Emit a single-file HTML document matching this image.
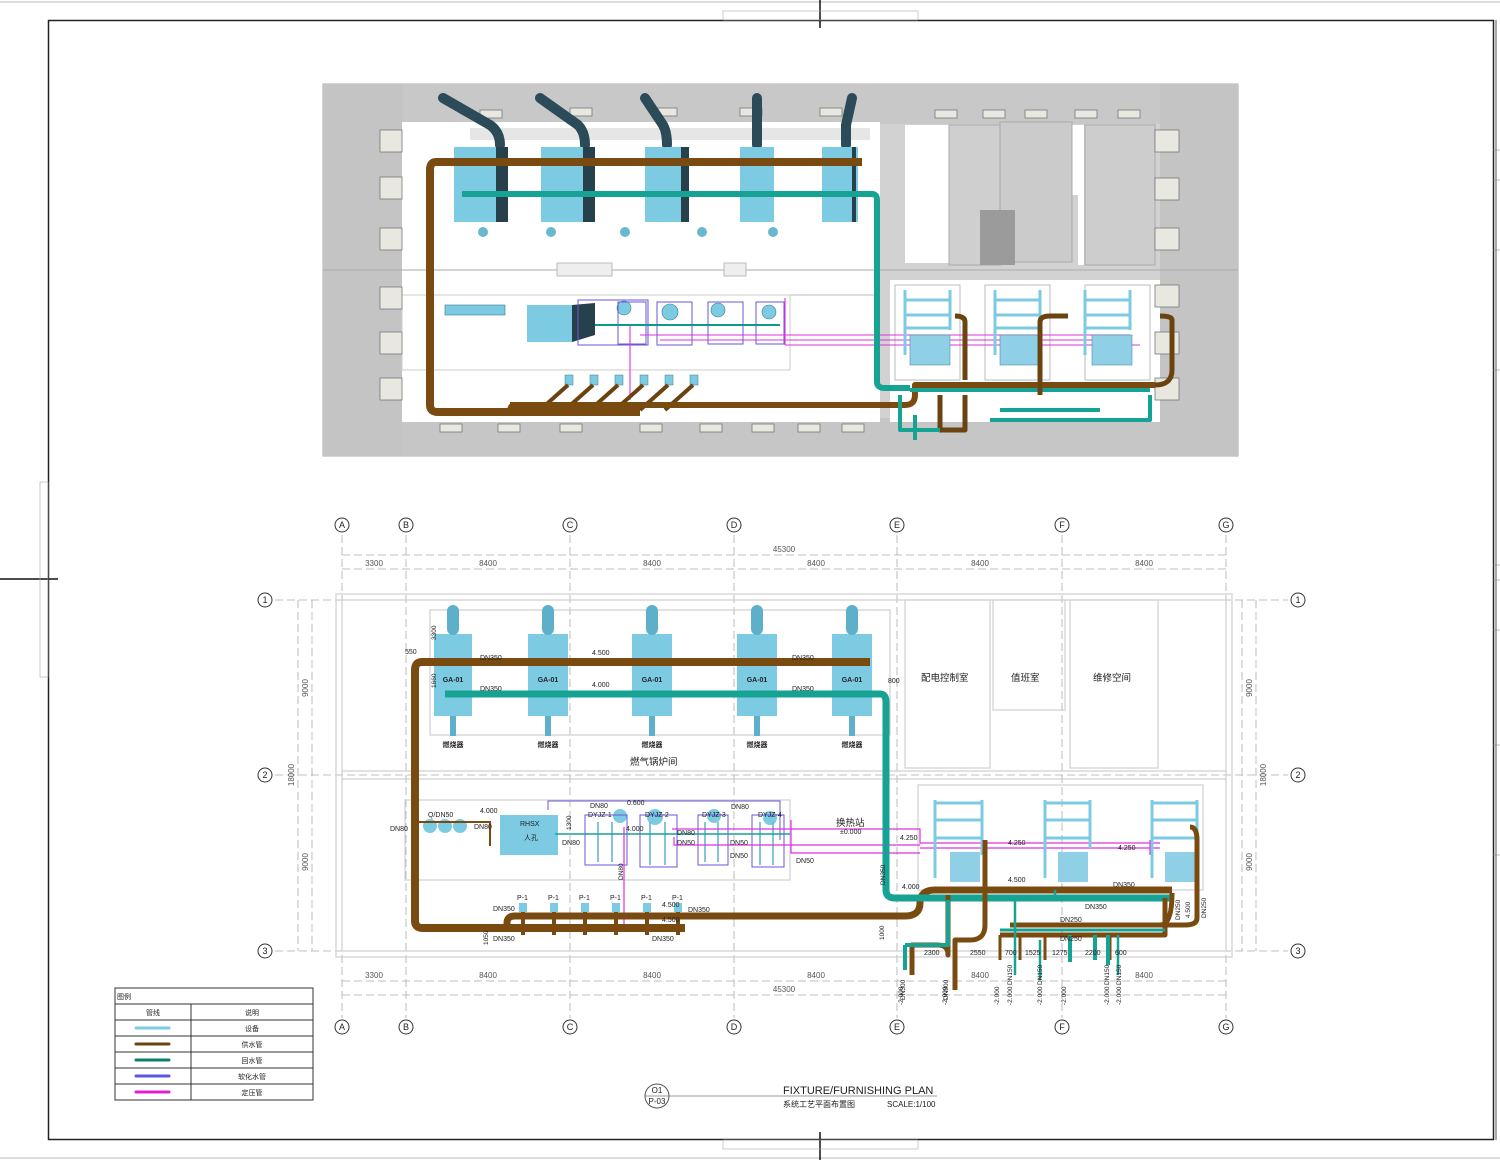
<!DOCTYPE html>
<html><head><meta charset="utf-8"><style>
html,body{margin:0;padding:0;background:#fff;}
svg{display:block}
text{font-family:"Liberation Sans","Noto Sans CJK SC",sans-serif;}
</style></head><body>
<svg width="1500" height="1160" viewBox="0 0 1500 1160" xmlns="http://www.w3.org/2000/svg">
<rect width="1500" height="1160" fill="#fff"/>
<!-- frame -->
<rect x="48.5" y="20.5" width="1445" height="1119" fill="none" stroke="#222" stroke-width="1.5"/>
<line x1="0" y1="2" x2="1500" y2="2" stroke="#bbb"/>
<line x1="0" y1="1158" x2="1500" y2="1158" stroke="#bbb"/>
<line x1="1496" y1="20" x2="1496" y2="1140" stroke="#555"/>
<g stroke="#888" stroke-width="0.6">
<line x1="1493" y1="150" x2="1500" y2="150"/><line x1="1493" y1="180" x2="1500" y2="180"/><line x1="1493" y1="250" x2="1500" y2="250"/><line x1="1493" y1="370" x2="1500" y2="370"/><line x1="1493" y1="565" x2="1500" y2="565"/><line x1="1493" y1="580" x2="1500" y2="580"/><line x1="1493" y1="630" x2="1500" y2="630"/><line x1="1493" y1="745" x2="1500" y2="745"/><line x1="1493" y1="855" x2="1500" y2="855"/>
</g>
<line x1="820" y1="0" x2="820" y2="28" stroke="#111" stroke-width="1.5"/>
<line x1="820" y1="1132" x2="820" y2="1160" stroke="#111" stroke-width="1.5"/>
<line x1="0" y1="579" x2="58" y2="579" stroke="#111" stroke-width="1.5"/>
<g fill="none" stroke="#aaa" stroke-width="0.6">
<rect x="723" y="11" width="195" height="9"/><rect x="723" y="1140" width="195" height="9"/>
<rect x="40" y="482" width="8" height="195"/>
</g>

<!-- ===== 3D view ===== -->
<rect x="323" y="84" width="915" height="372" fill="#d2d2d2"/>
<rect x="323" y="84" width="915" height="372" fill="none" stroke="#aaa"/>
<!-- top wall strip -->
<rect x="323" y="84" width="915" height="40" fill="#c8c8c8"/>
<rect x="323" y="418" width="915" height="38" fill="#c6c6c6"/>
<rect x="323" y="84" width="80" height="372" fill="#c4c4c4"/>
<rect x="1160" y="84" width="78" height="372" fill="#c4c4c4"/>
<!-- boiler room interior -->
<rect x="402" y="122" width="478" height="300" fill="#fff"/>
<rect x="470" y="128" width="400" height="12" fill="#e6e6e6"/>
<line x1="402" y1="295" x2="880" y2="295" stroke="#bbb"/>
<line x1="323" y1="270" x2="1238" y2="270" stroke="#aaa"/>
<rect x="402" y="295" width="388" height="75" fill="none" stroke="#ccc"/>
<rect x="557" y="263" width="55" height="13" fill="#eee" stroke="#bbb"/>
<rect x="724" y="263" width="22" height="13" fill="#eee" stroke="#bbb"/>
<!-- right rooms -->
<rect x="905" y="125" width="44" height="138" fill="#fff"/>
<rect x="1000" y="125" width="80" height="70" fill="#fff"/>
<rect x="1078" y="125" width="6" height="140" fill="#fff"/>
<rect x="949" y="125" width="52" height="140" fill="#cfcfcf" stroke="#aaa"/>
<rect x="1000" y="122" width="72" height="140" fill="#cbcbcb" stroke="#aaa"/>
<rect x="980" y="210" width="35" height="55" fill="#9b9b9b"/>
<rect x="1085" y="125" width="70" height="140" fill="#cdcdcd" stroke="#aaa"/>
<rect x="890" y="280" width="270" height="142" fill="#fff"/>
<rect x="895" y="285" width="65" height="95" fill="none" stroke="#bbb"/>
<rect x="985" y="285" width="65" height="95" fill="none" stroke="#bbb"/>
<rect x="1085" y="285" width="65" height="95" fill="none" stroke="#bbb"/>
<!-- windows -->
<g fill="#e8e8e0" stroke="#777" stroke-width="0.8">
<rect x="380" y="130" width="22" height="22"/><rect x="380" y="177" width="22" height="22"/><rect x="380" y="228" width="22" height="22"/>
<rect x="380" y="287" width="22" height="22"/><rect x="380" y="332" width="22" height="22"/><rect x="380" y="378" width="22" height="22"/>
<rect x="1155" y="130" width="24" height="22"/><rect x="1155" y="178" width="24" height="22"/><rect x="1155" y="228" width="24" height="22"/>
<rect x="1155" y="285" width="24" height="22"/><rect x="1155" y="332" width="24" height="22"/><rect x="1155" y="378" width="24" height="22"/>
<rect x="480" y="110" width="22" height="8"/><rect x="570" y="108" width="22" height="8"/><rect x="655" y="108" width="22" height="8"/><rect x="740" y="108" width="22" height="8"/><rect x="820" y="108" width="22" height="8"/>
<rect x="935" y="110" width="22" height="8"/><rect x="983" y="110" width="22" height="8"/><rect x="1025" y="110" width="22" height="8"/><rect x="1075" y="110" width="22" height="8"/><rect x="1118" y="110" width="22" height="8"/>
<rect x="440" y="424" width="22" height="8"/><rect x="498" y="424" width="22" height="8"/><rect x="560" y="424" width="22" height="8"/><rect x="640" y="424" width="22" height="8"/><rect x="700" y="424" width="22" height="8"/><rect x="752" y="424" width="22" height="8"/><rect x="798" y="424" width="22" height="8"/><rect x="842" y="424" width="22" height="8"/>
</g>
<!-- chimneys -->
<g fill="none" stroke="#2b4b58" stroke-width="10" stroke-linecap="round">
<path d="M443 98 L490 125 Q500 132 500 145"/>
<path d="M540 98 L578 125 Q585 132 585 145"/>
<path d="M645 98 L663 125 Q667 132 667 145"/>
<path d="M757 98 L757 145"/>
<path d="M852 98 L846 125 L846 145"/>
</g>
<!-- boilers 3D -->
<g>
<rect x="454" y="147" width="42" height="75" fill="#7ccbe3"/><rect x="496" y="147" width="12" height="75" fill="#26414b"/>
<rect x="541" y="147" width="42" height="75" fill="#7ccbe3"/><rect x="583" y="147" width="12" height="75" fill="#26414b"/>
<rect x="645" y="147" width="36" height="75" fill="#7ccbe3"/><rect x="681" y="147" width="8" height="75" fill="#26414b"/>
<rect x="740" y="147" width="34" height="75" fill="#7ccbe3"/>
<rect x="822" y="147" width="36" height="75" fill="#7ccbe3"/><rect x="852" y="147" width="4" height="75" fill="#26414b"/>
</g>
<g fill="#6ab7cf"><circle cx="483" cy="232" r="5"/><circle cx="551" cy="232" r="5"/><circle cx="625" cy="232" r="5"/><circle cx="702" cy="232" r="5"/><circle cx="773" cy="232" r="5"/></g>
<!-- water treatment -->
<rect x="527" y="305" width="45" height="37" fill="#7ccbe3"/>
<path d="M572 305 L595 303 L595 335 L572 342Z" fill="#26414b"/>
<g fill="#7ccbe3" stroke="#3c7a8c" stroke-width="0.6"><circle cx="624" cy="308" r="7"/><circle cx="670" cy="312" r="8"/><circle cx="718" cy="310" r="7"/><circle cx="769" cy="312" r="7"/><rect x="445" y="305" width="60" height="10"/></g>
<g fill="none" stroke="#6b57d6" stroke-width="1"><rect x="578" y="300" width="70" height="45"/><rect x="618" y="302" width="28" height="42"/><rect x="657" y="302" width="35" height="43"/><rect x="708" y="302" width="35" height="42"/><rect x="756" y="302" width="28" height="42"/></g>
<g stroke="#e030e0" stroke-width="1.1" fill="none"><line x1="630" y1="325" x2="630" y2="400"/><path d="M640 335 L1130 335"/><path d="M660 340 L1130 340"/><path d="M785 345 L1140 345"/><line x1="785" y1="298" x2="785" y2="345"/></g>
<line x1="595" y1="325" x2="780" y2="325" stroke="#0d9a8b" stroke-width="2"/>
<!-- distributor small -->
<g fill="#7ccbe3" stroke="#3c7a8c" stroke-width="0.5"><rect x="565" y="375" width="8" height="10"/><rect x="590" y="375" width="8" height="10"/><rect x="615" y="375" width="8" height="10"/><rect x="640" y="375" width="8" height="10"/><rect x="665" y="375" width="8" height="10"/><rect x="690" y="375" width="8" height="10"/></g>
<g stroke="#6b4310" stroke-width="4" fill="none"><path d="M568 385 L540 410"/><path d="M593 385 L565 410"/><path d="M618 385 L590 410"/><path d="M643 385 L615 410"/><path d="M668 385 L640 410"/><path d="M693 385 L665 410"/></g>
<!-- heat exchangers -->
<g fill="none" stroke="#7ccbe3" stroke-width="3">
<path d="M905 290 V355 M950 290 V330 M905 300 H950 M905 315 H950 M905 328 H950"/>
<path d="M995 290 V355 M1040 290 V330 M995 300 H1040 M995 315 H1040 M995 328 H1040"/>
<path d="M1085 290 V355 M1130 290 V330 M1085 300 H1130 M1085 315 H1130 M1085 328 H1130"/>
</g>
<g fill="#8fd0e6" stroke="#4d8ea3" stroke-width="0.6"><rect x="910" y="335" width="40" height="30"/><rect x="1000" y="335" width="40" height="30"/><rect x="1092" y="335" width="40" height="30"/></g>
<!-- main pipes 3D -->
<g fill="none" stroke-linejoin="round">
<path d="M862 162 H436 Q430 162 430 170 V405 Q430 412 438 412 H640" stroke="#7a4b10" stroke-width="8"/>
<path d="M515 405 Q510 405 510 412 M510 405 H905 Q915 405 915 395 V385 H1155" stroke="#7a4b10" stroke-width="6"/>
<path d="M462 194 H872 Q877 194 877 200 V382 Q877 388 885 388 H910" stroke="#17a394" stroke-width="6"/>
<path d="M910 390 H1150" stroke="#17a394" stroke-width="4"/>
<path d="M1155 385 Q1172 385 1172 370 V320 Q1172 316 1160 316" stroke="#6b4310" stroke-width="5"/>
<path d="M965 380 V322 Q965 316 955 316 M1040 395 V322 Q1040 316 1050 316 H1068" stroke="#6b4310" stroke-width="5"/>
<path d="M940 395 V430 H965 V395" stroke="#6b4310" stroke-width="5"/>
<path d="M900 395 V430 H940 M1150 395 V420 H990 M1000 410 H1100" stroke="#17a394" stroke-width="4"/>
<path d="M915 415 V440" stroke="#17a394" stroke-width="4"/>
</g>

<!-- ===== PLAN ===== -->
<!-- grid dashes -->
<g stroke="#aaa" stroke-width="0.8" stroke-dasharray="8 4" fill="none">
<line x1="342" y1="535" x2="342" y2="1018"/><line x1="406" y1="535" x2="406" y2="1018"/><line x1="570" y1="535" x2="570" y2="1018"/><line x1="734" y1="535" x2="734" y2="1018"/><line x1="897" y1="535" x2="897" y2="1018"/><line x1="1062" y1="535" x2="1062" y2="1018"/><line x1="1226" y1="535" x2="1226" y2="1018"/>
<line x1="275" y1="600" x2="1288" y2="600"/><line x1="275" y1="775" x2="1288" y2="775"/><line x1="275" y1="951" x2="1288" y2="951"/>
<line x1="342" y1="555" x2="1226" y2="555"/><line x1="342" y1="569" x2="1226" y2="569"/><line x1="342" y1="981" x2="1226" y2="981"/><line x1="342" y1="995" x2="1226" y2="995"/>
<line x1="298" y1="600" x2="298" y2="951"/><line x1="312" y1="600" x2="312" y2="951"/><line x1="1242" y1="600" x2="1242" y2="951"/><line x1="1256" y1="600" x2="1256" y2="951"/>
</g>
<!-- walls -->
<g fill="none" stroke="#cfcfcf" stroke-width="1.2">
<rect x="336" y="594" width="896" height="363"/><rect x="342" y="600" width="884" height="351"/>
<line x1="342" y1="771" x2="1226" y2="771"/><line x1="342" y1="779" x2="1226" y2="779"/>
<rect x="905" y="600" width="85" height="168"/><rect x="993" y="600" width="72" height="110"/><rect x="1070" y="600" width="88" height="168"/>
<rect x="430" y="610" width="460" height="125"/><rect x="405" y="800" width="385" height="80"/><rect x="918" y="785" width="285" height="105"/>
</g>
<g fill="#555" font-size="8" text-anchor="middle">
<text x="374" y="566">3300</text><text x="488" y="566">8400</text><text x="652" y="566">8400</text><text x="816" y="566">8400</text><text x="980" y="566">8400</text><text x="1144" y="566">8400</text>
<text x="784" y="552">45300</text>
<text x="374" y="978">3300</text><text x="488" y="978">8400</text><text x="652" y="978">8400</text><text x="816" y="978">8400</text><text x="980" y="978">8400</text><text x="1144" y="978">8400</text>
<text x="784" y="992">45300</text>
<text transform="translate(308 688) rotate(-90)">9000</text><text transform="translate(308 862) rotate(-90)">9000</text><text transform="translate(294 775) rotate(-90)">18000</text>
<text transform="translate(1252 688) rotate(-90)">9000</text><text transform="translate(1252 862) rotate(-90)">9000</text><text transform="translate(1266 775) rotate(-90)">18000</text>
</g>
<!-- axis circles -->
<g fill="#fff" stroke="#333" stroke-width="1">
<circle cx="342" cy="525" r="7"/><circle cx="406" cy="525" r="7"/><circle cx="570" cy="525" r="7"/><circle cx="734" cy="525" r="7"/><circle cx="897" cy="525" r="7"/><circle cx="1062" cy="525" r="7"/><circle cx="1226" cy="525" r="7"/>
<circle cx="342" cy="1027" r="7"/><circle cx="406" cy="1027" r="7"/><circle cx="570" cy="1027" r="7"/><circle cx="734" cy="1027" r="7"/><circle cx="897" cy="1027" r="7"/><circle cx="1062" cy="1027" r="7"/><circle cx="1226" cy="1027" r="7"/>
<circle cx="265" cy="600" r="7"/><circle cx="265" cy="775" r="7"/><circle cx="265" cy="951" r="7"/>
<circle cx="1298" cy="600" r="7"/><circle cx="1298" cy="775" r="7"/><circle cx="1298" cy="951" r="7"/>
</g>
<g fill="#222" font-size="9" text-anchor="middle">
<text x="342" y="528">A</text><text x="406" y="528">B</text><text x="570" y="528">C</text><text x="734" y="528">D</text><text x="897" y="528">E</text><text x="1062" y="528">F</text><text x="1226" y="528">G</text>
<text x="342" y="1030">A</text><text x="406" y="1030">B</text><text x="570" y="1030">C</text><text x="734" y="1030">D</text><text x="897" y="1030">E</text><text x="1062" y="1030">F</text><text x="1226" y="1030">G</text>
<text x="265" y="603">1</text><text x="265" y="778">2</text><text x="265" y="954">3</text>
<text x="1298" y="603">1</text><text x="1298" y="778">2</text><text x="1298" y="954">3</text>
</g>
<!-- boilers plan -->
<g fill="#7ccbe3">
<rect x="434" y="634" width="38" height="82"/><rect x="528" y="634" width="40" height="82"/><rect x="632" y="634" width="40" height="82"/><rect x="737" y="634" width="40" height="82"/><rect x="832" y="634" width="40" height="82"/>
</g>
<g fill="#5eb0ca">
<rect x="447" y="605" width="12" height="30" rx="6"/><rect x="542" y="605" width="12" height="30" rx="6"/><rect x="646" y="605" width="12" height="30" rx="6"/><rect x="751" y="605" width="12" height="30" rx="6"/><rect x="846" y="605" width="12" height="30" rx="6"/>
<rect x="450" y="716" width="6" height="20"/><rect x="545" y="716" width="6" height="20"/><rect x="649" y="716" width="6" height="20"/><rect x="754" y="716" width="6" height="20"/><rect x="849" y="716" width="6" height="20"/>
</g>
<g font-size="7" fill="#222" text-anchor="middle" font-weight="bold">
<text x="453" y="682">GA-01</text><text x="548" y="682">GA-01</text><text x="652" y="682">GA-01</text><text x="757" y="682">GA-01</text><text x="852" y="682">GA-01</text>
<text x="453" y="747">燃烧器</text><text x="548" y="747">燃烧器</text><text x="652" y="747">燃烧器</text><text x="757" y="747">燃烧器</text><text x="852" y="747">燃烧器</text>
</g>
<!-- equipment lower -->
<rect x="500" y="815" width="58" height="40" fill="#7ccbe3"/>
<g fill="#7ccbe3"><circle cx="430" cy="826" r="7"/><circle cx="445" cy="826" r="7"/><circle cx="460" cy="826" r="7"/><circle cx="620" cy="816" r="7"/><circle cx="655" cy="817" r="8"/><circle cx="714" cy="816" r="7"/><circle cx="770" cy="818" r="7"/></g>
<g fill="none" stroke="#6b57d6" stroke-width="1"><path d="M548 810 V801 H780 V840"/><rect x="585" y="815" width="42" height="50"/><rect x="640" y="815" width="37" height="52"/><rect x="698" y="815" width="30" height="50"/><rect x="752" y="815" width="32" height="52"/></g>
<g stroke="#5eb0ca" stroke-width="1.5"><line x1="598" y1="822" x2="598" y2="862"/><line x1="612" y1="822" x2="612" y2="862"/><line x1="650" y1="822" x2="650" y2="865"/><line x1="665" y1="822" x2="665" y2="865"/><line x1="705" y1="822" x2="705" y2="862"/><line x1="718" y1="822" x2="718" y2="862"/><line x1="760" y1="822" x2="760" y2="865"/><line x1="773" y1="822" x2="773" y2="865"/></g>
<line x1="555" y1="834" x2="790" y2="834" stroke="#17a394" stroke-width="1.5"/>
<g stroke="#e030e0" stroke-width="1.2" fill="none"><path d="M624 827 V928"/><path d="M672 829 H920 V843 H1160"/><path d="M674 837 V845 H920 M791 820 V853 H920"/><path d="M920 848 H1160"/><line x1="1150" y1="840" x2="1150" y2="855"/></g>
<path d="M415 822 H490 V846" fill="none" stroke="#7a4b10" stroke-width="2"/>
<!-- heat exchangers plan -->
<g fill="none" stroke="#7ccbe3" stroke-width="3">
<path d="M935 800 V878 M982 800 V855 M935 803 H982 M935 820 H982 M935 838 H982"/>
<path d="M1045 800 V878 M1090 800 V848 M1045 803 H1090 M1045 820 H1090 M1045 838 H1090"/>
<path d="M1152 800 V878 M1197 800 V848 M1152 803 H1197 M1152 820 H1197 M1152 838 H1197"/>
</g>
<g fill="#8fd0e6"><rect x="950" y="852" width="30" height="30"/><rect x="1058" y="852" width="30" height="30"/><rect x="1165" y="852" width="30" height="30"/></g>
<!-- P-1 pumps -->
<g fill="#7ccbe3"><rect x="519" y="903" width="8" height="9"/><rect x="550" y="903" width="8" height="9"/><rect x="581" y="903" width="8" height="9"/><rect x="612" y="903" width="8" height="9"/><rect x="643" y="903" width="8" height="9"/><rect x="674" y="903" width="8" height="9"/></g>
<!-- main pipes plan -->
<g fill="none" stroke-linejoin="round">
<path d="M870 662 H422 Q415 662 415 670 V921 Q415 928 423 928 H685" stroke="#7a4b10" stroke-width="8"/>
<path d="M507 928 V923 Q507 916 515 916 H905 Q920 916 920 903 Q920 890 935 890 H1172" stroke="#7a4b10" stroke-width="7"/>
<path d="M445 694 H880 Q886 694 886 702 V890 Q886 898 895 898 H1172" stroke="#17a394" stroke-width="7"/>
<path d="M1172 893 Q1172 925 1160 925 H1010 M1000 935 H1165 V898" stroke="#7a4b10" stroke-width="5"/>
<path d="M1000 935 V960 M1020 935 V960 M1045 935 V960 M1110 935 V960" stroke="#7a4b10" stroke-width="3"/>
<path d="M1000 930 H1165" stroke="#17a394" stroke-width="3"/>
<path d="M985 840 V925 Q985 940 970 940 H955 V990 M948 895 V955 Q948 945 938 945 H912 V975" stroke="#7a4b10" stroke-width="5"/>
<path d="M1190 827 Q1197 827 1197 840 V918 Q1197 925 1185 925 H1160" stroke="#7a4b10" stroke-width="5"/>
<path d="M905 945 V970 M948 900 V945 H905 M1095 935 V960 M1108 935 V965 M1070 935 V962" stroke="#17a394" stroke-width="4"/>
<path d="M1055 900 V890 M1015 895 V975 M1040 940 V980 M1118 935 V975" stroke="#17a394" stroke-width="2.5"/>
</g>
<g stroke="#7a4b10" stroke-width="4"><line x1="523" y1="912" x2="523" y2="935"/><line x1="554" y1="912" x2="554" y2="935"/><line x1="585" y1="912" x2="585" y2="935"/><line x1="616" y1="912" x2="616" y2="935"/><line x1="647" y1="912" x2="647" y2="935"/><line x1="678" y1="912" x2="678" y2="935"/></g>
<!-- labels -->
<g fill="#222" font-size="7">
<text x="480" y="660">DN350</text><text x="480" y="691">DN350</text><text x="792" y="660">DN350</text><text x="792" y="691">DN350</text>
<text x="592" y="655">4.500</text><text x="592" y="687">4.000</text><text x="405" y="654">550</text><text x="888" y="683">800</text>
<text x="428" y="817">Q/DN50</text><text x="390" y="831">DN80</text><text x="474" y="829">DN80</text><text x="480" y="813">4.000</text>
<text x="520" y="826">RHSX</text><text x="524" y="840">人孔</text><text x="562" y="845">DN80</text>
<text x="590" y="808">DN80</text><text x="627" y="805">0.600</text><text x="731" y="809">DN80</text>
<text x="588" y="817">DYJZ-1</text><text x="645" y="817">DYJZ-2</text><text x="702" y="817">DYJZ-3</text><text x="758" y="817">DYJZ-4</text>
<text x="626" y="831">4.000</text><text x="677" y="835">DN80</text><text x="677" y="845">DN50</text><text x="730" y="845">DN50</text><text x="730" y="858">DN50</text><text x="796" y="863">DN50</text>
<text x="900" y="840">4.250</text><text x="1008" y="845">4.250</text><text x="1118" y="850">4.250</text><text x="902" y="889">4.000</text><text x="1008" y="882">4.500</text>
<text x="1113" y="887">DN350</text><text x="1085" y="909">DN350</text><text x="1060" y="922">DN250</text><text x="1060" y="941">DN250</text>
<text x="517" y="900">P-1</text><text x="548" y="900">P-1</text><text x="579" y="900">P-1</text><text x="610" y="900">P-1</text><text x="641" y="900">P-1</text><text x="672" y="900">P-1</text>
<text x="493" y="911">DN350</text><text x="493" y="941">DN350</text><text x="688" y="912">DN350</text><text x="652" y="941">DN350</text><text x="662" y="907">4.500</text><text x="662" y="922">4.500</text>
<text x="924" y="955">2300</text><text x="970" y="955">2550</text><text x="1005" y="955">700</text><text x="1025" y="955">1525</text><text x="1052" y="955">1275</text><text x="1085" y="955">2200</text><text x="1115" y="955">600</text>
</g>
<g fill="#222" font-size="6.5">
<text transform="translate(436 640) rotate(-90)">3300</text><text transform="translate(436 688) rotate(-90)">1660</text><text transform="translate(885 885) rotate(-90)">DN350</text><text transform="translate(884 940) rotate(-90)">1000</text>
<text transform="translate(623 880) rotate(-90)">DN80</text><text transform="translate(571 830) rotate(-90)">1300</text><text transform="translate(488 945) rotate(-90)">1050</text>
<text transform="translate(1180 920) rotate(-90)">DN250</text><text transform="translate(1190 918) rotate(-90)">4.500</text><text transform="translate(1206 918) rotate(-90)">DN250</text>
<text transform="translate(905 1000) rotate(-90)">DN300</text><text transform="translate(948 1000) rotate(-90)">DN300</text>
<text transform="translate(903 1005) rotate(-90)">-2.000</text><text transform="translate(947 1005) rotate(-90)">-2.000</text><text transform="translate(999 1005) rotate(-90)">-2.000</text><text transform="translate(1012 1005) rotate(-90)">-2.000</text><text transform="translate(1042 1005) rotate(-90)">-2.000</text><text transform="translate(1066 1005) rotate(-90)">-2.000</text><text transform="translate(1109 1005) rotate(-90)">-2.000</text><text transform="translate(1121 1005) rotate(-90)">-2.000</text>
<text transform="translate(1012 985) rotate(-90)">DN150</text><text transform="translate(1042 985) rotate(-90)">DN150</text><text transform="translate(1109 985) rotate(-90)">DN150</text><text transform="translate(1121 985) rotate(-90)">DN150</text>
</g>
<g fill="#222" font-size="9.5">
<text x="921" y="681">配电控制室</text><text x="1011" y="681">值班室</text><text x="1093" y="681">维修空间</text>
<text x="630" y="765">燃气锅炉间</text><text x="836" y="826">换热站</text>
</g>
<text x="840" y="834" font-size="7" fill="#222">±0.000</text>

<!-- legend -->
<g stroke="#333" stroke-width="1" fill="none">
<rect x="115" y="988" width="198" height="112"/>
<line x1="115" y1="1004" x2="313" y2="1004"/><line x1="115" y1="1020" x2="313" y2="1020"/><line x1="115" y1="1036" x2="313" y2="1036"/><line x1="115" y1="1052" x2="313" y2="1052"/><line x1="115" y1="1068" x2="313" y2="1068"/><line x1="115" y1="1084" x2="313" y2="1084"/>
<line x1="191" y1="1004" x2="191" y2="1100"/>
</g>
<g stroke-width="3" stroke-linecap="round"><line x1="136" y1="1028" x2="169" y2="1028" stroke="#7ccbe3"/><line x1="136" y1="1044" x2="169" y2="1044" stroke="#6b4310"/><line x1="136" y1="1060" x2="169" y2="1060" stroke="#0d7f6f"/><line x1="136" y1="1076" x2="169" y2="1076" stroke="#5a55e0"/><line x1="136" y1="1092" x2="169" y2="1092" stroke="#e020d0"/></g>
<g font-size="7" fill="#222" text-anchor="middle"><text x="124" y="999">图例</text><text x="153" y="1015">管线</text><text x="252" y="1015">说明</text><text x="252" y="1031">设备</text><text x="252" y="1047">供水管</text><text x="252" y="1063">回水管</text><text x="252" y="1079">软化水管</text><text x="252" y="1095">定压管</text></g>

<!-- title -->
<circle cx="657" cy="1096" r="12" fill="#fff" stroke="#555"/>
<line x1="645" y1="1096" x2="937" y2="1096" stroke="#777" stroke-width="0.8"/>
<g font-size="8" fill="#222" text-anchor="middle"><text x="657" y="1093">O1</text><text x="657" y="1104">P-03</text></g>
<text x="783" y="1094" font-size="11" fill="#222">FIXTURE/FURNISHING  PLAN</text>
<text x="783" y="1107" font-size="8" fill="#222">系统工艺平面布置图</text>
<text x="887" y="1107" font-size="8" fill="#222">SCALE:1/100</text>
</svg>
</body></html>
